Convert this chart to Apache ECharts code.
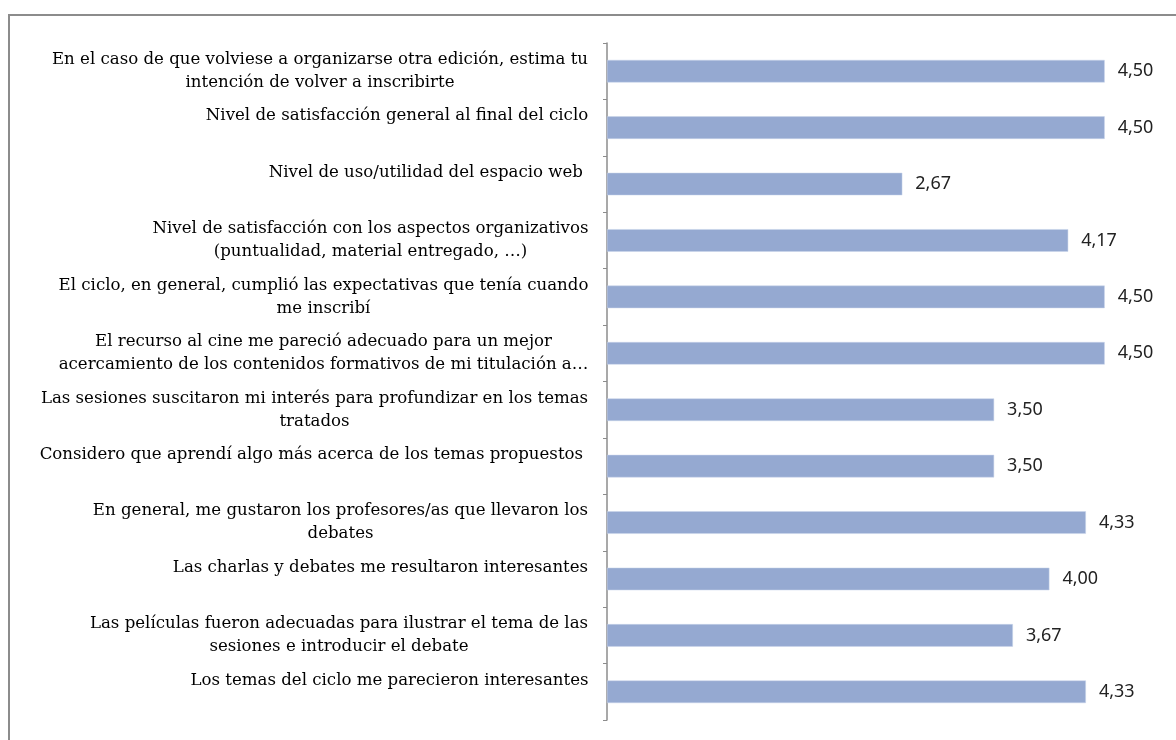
<!DOCTYPE html>
<html>
<head>
<meta charset="utf-8">
<script src="https://cdn.jsdelivr.net/npm/echarts@6/dist/echarts.min.js"></script>
<style>
html,body{margin:0;padding:0;background:#fff;}
#c{width:1176px;height:740px;}
</style>
</head>
<body>
<div id="c"></div>
<script>
var categories = [
  "En el caso de que volviese a organizarse otra edición, estima tu\nintención de volver a inscribirte",
  "Nivel de satisfacción general al final del ciclo",
  "Nivel de uso/utilidad del espacio web ",
  "Nivel de satisfacción con los aspectos organizativos\n(puntualidad, material entregado, …)",
  "El ciclo, en general, cumplió las expectativas que tenía cuando\nme inscribí",
  "El recurso al cine me pareció adecuado para un mejor\nacercamiento de los contenidos formativos de mi titulación a…",
  "Las sesiones suscitaron mi interés para profundizar en los temas\ntratados",
  "Considero que aprendí algo más acerca de los temas propuestos ",
  "En general, me gustaron los profesores/as que llevaron los\ndebates",
  "Las charlas y debates me resultaron interesantes",
  "Las películas fueron adecuadas para ilustrar el tema de las\nsesiones e introducir el debate",
  "Los temas del ciclo me parecieron interesantes"
];
var values = [4.50, 4.50, 2.67, 4.17, 4.50, 4.50, 3.50, 3.50, 4.33, 4.00, 3.67, 4.33];

var labelFamily = 'DejaVu Serif';
var labelSize = 16.6;
var cv = document.createElement('canvas').getContext('2d');
cv.font = labelSize + "px '" + labelFamily + "'";
var rich = {};
var formatted = {};
categories.forEach(function (c, i) {
  var lines = c.split('\n');
  var w = 0;
  lines.forEach(function (l) { w = Math.max(w, cv.measureText(l).width); });
  var key = 'r' + i;
  rich[key] = { width: Math.ceil(w) + 1, align: 'center', fontFamily: labelFamily, fontSize: labelSize, lineHeight: 23, color: '#000' };
  if (lines.length === 1) lines.push(' ');
  formatted[c] = lines.map(function (l) { return '{' + key + '|' + l + '}'; }).join('\n');
});

var chart = echarts.init(document.getElementById('c'), null, { renderer: 'canvas' });
chart.setOption({
  animation: false,
  backgroundColor: '#fff',
  graphic: [{
    type: 'rect',
    shape: { x: 9, y: 15, width: 1200, height: 760 },
    style: { fill: 'none', stroke: '#8c8c8c', lineWidth: 2 },
    silent: true
  }],
  grid: { left: 607, right: 16, top: 43, bottom: 20, containLabel: false },
  xAxis: {
    type: 'value', min: 0, max: 5,
    show: false
  },
  yAxis: {
    type: 'category',
    inverse: true,
    data: categories,
    axisLine: { show: true, lineStyle: { color: '#8c8c8c', width: 1.5 } },
    axisTick: { show: true, length: 4, lineStyle: { color: '#8c8c8c' } },
    axisLabel: {
      margin: 18,
      formatter: function (v) { return formatted[v]; },
      rich: rich
    }
  },
  series: [{
    type: 'bar',
    data: values,
    barWidth: '40%',
    itemStyle: { color: '#95a9d1', borderColor: '#c9d4ea', borderWidth: 0.5 },
    label: {
      show: true,
      position: 'right',
      distance: 13,
      fontFamily: 'Noto Sans',
      fontSize: 18,
      color: '#222',
      formatter: function (p) { return p.value.toFixed(2).replace('.', ','); }
    }
  }]
});
</script>
</body>
</html>
